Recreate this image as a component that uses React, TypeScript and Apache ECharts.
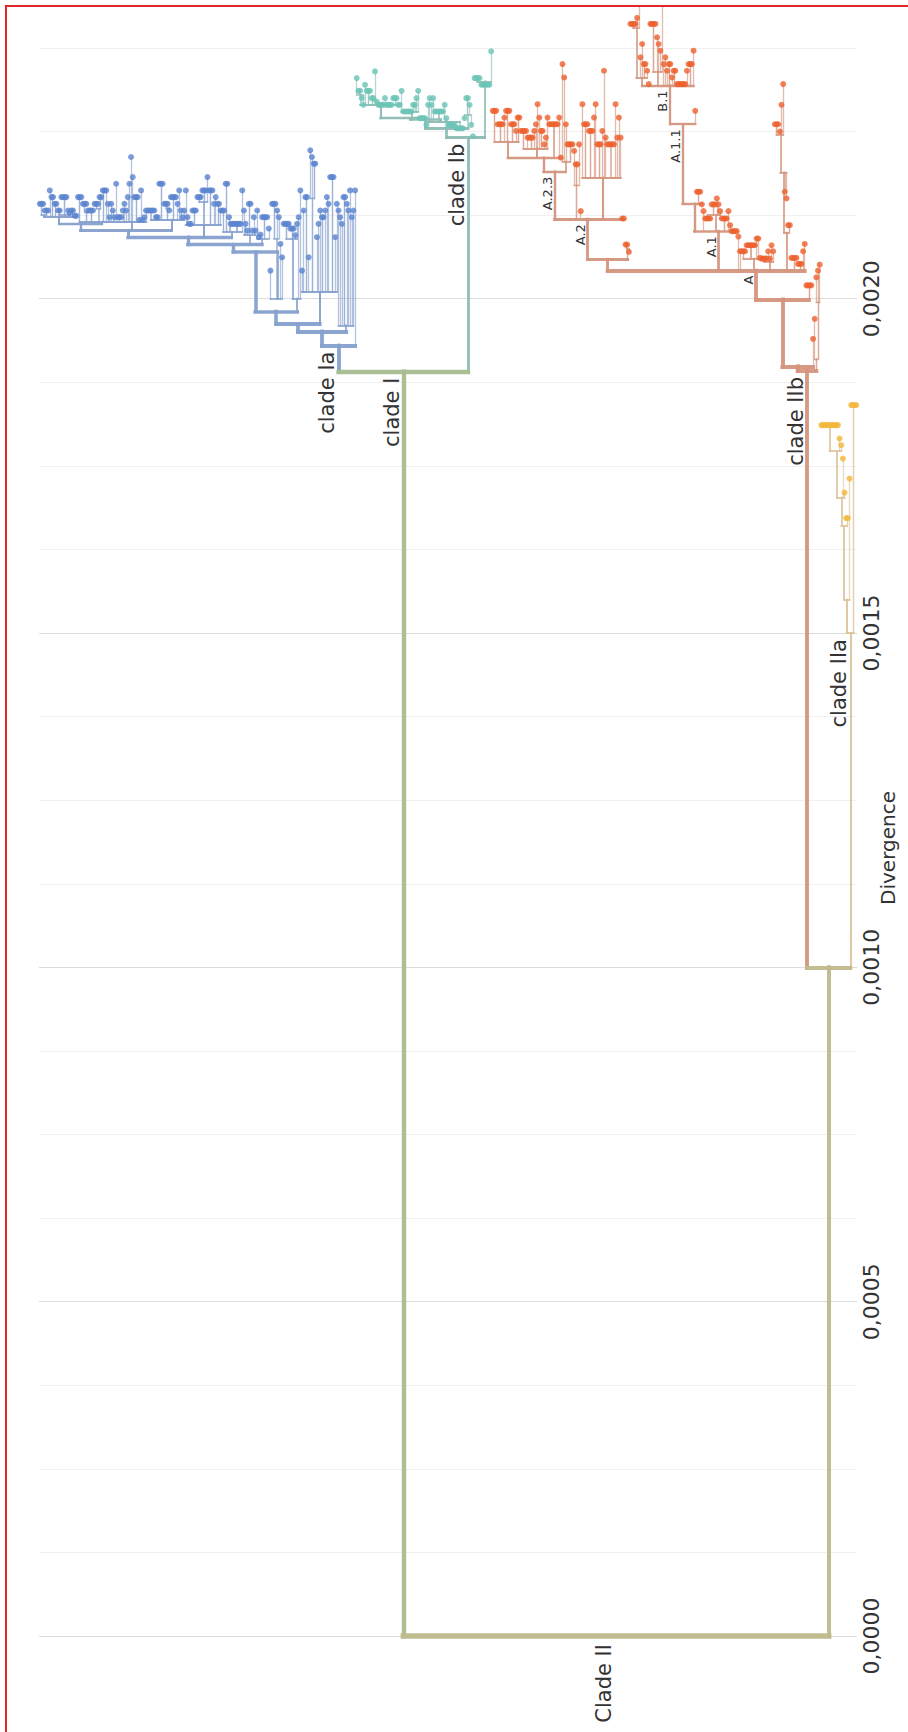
import React, { useEffect, useRef } from 'react';
import * as echarts from 'echarts';

// Tree notation: H = node divergence in units of 1e-5 (absolute, from root)
// "H" tip, "HxK" K tips sitting on a node at H, "H(child,...)" internal node, "#tag" names a node.
const cladeIaTree = `193#Ia(
 195.1(
  196.2(
   198.1(
    207(
     208.1(
      209.2(
       210.2(
        211.2(
         212.3(212.5(214.2x3,213.2x3),216.2,215.2x2,214.2x2,212.6(213.2x2,215.2x4,213.2,212.8),213.2x2,212.4x2),
         211.5(215.2x3,213(214.2x3,213.2),213.2x3,213.5(214.2x3,215.2x2),216.2x2,216.2,214.2,212.2,214.2,213.2,212.2)
        ),
        211.5(217.2,212.2x3,213.2,214.2,213.2,215.2,217.2,221.2,218.2,215.2x3,211.8,216.2,211.8,212.2,213.2),
        211.8(213.2x5,212.2x2,217.2x3,213.6(214.2x3,213.2),215.2x4,214.2,216.2,213.2,212.2,213.2)
       ),
       211(216.2,212.2,211.2x2,213.2x3,214.5(215.2x3,216.2x3,218.2),216.2x3,214.2,215.2,214.2x2,213.2),
       210(213.2x2,217.2x2,212.2,211.2,211.2x6,216.2)
      ),
      209.5(213.2,211.2,210.2,214.2x2,210.2,212.2,210.2),
      209(213.2,209.2,209.6,212.2x4,210.5)
     ),
     200(204.2,209(214.2x3,213.2,212.2),208.2,206.2)
    ),
    200(209(211.2x4,210.5x3,209.5,211.2),212.2,216.2)
   ),
   201(204.2,213.2,215.2x2,206.2,215(222.2,221.2,220.2x2),209.2,211.2,213.2,212.2x2,213.2,215.2,214.2,218.2x3,209.2,214.2)
  ),
  196(213.2,212.2,211.2,215.2x2,214.2,213.2,216.2,212.2,213.2)
 ),
 216.2
)`;

const cladeIbTree = `224.1#Ib(
 225.5(
  226.8(
   227(
    229(230.5(233,231.1x2,230,229),232,231.1x3,230x2,234,229.5,229x4,230,229x4,230x3,229,229),
    228(231.1,228x6,229,229,230,231.1),
    227x4,
    226
   ),
   226.5(229,230,229,230,228x6,229,227,226x5,225.5x5)
  ),
  227.5(227,230x2,229,226)
 ),
 224.3,
 232.5(233x4,232x6,237)
)`;

const lineageA23Tree = `219#A23(
 221.1(
  223.5(228.1x3,226.1x4,227.1,228.1x3,226.1x3,225.1,227.1x2),
  222.5(225.1x4,224.1,224.1x3,225.1,226.1,229.1,227.1,225.1x2,223.1,224.1,227.1),
  226.1x6,
  227.1,
  221.1
 ),
 220.5(235.1,233.1,226.1,223.1x4)
)`;

const lineageA2Tree = `211.9#A2(
 ${lineageA23Tree},
 217(222.1,220.1x2,223.1),
 213.1,
 218.1(229.1,226.1x3,225.1x3,227.1,229.1,223.1x3,225.1,234.1,224.1,223.1x5,229.1,224.1,227.1,224.1),
 212x2
)`;

const lineageB1Tree = `231.9#B1(
 233(240.5(241.1x4,242,252),236.1,238.1,235.1x2,234.1),
 232.1,
 234(241.1x4,239.1,238.1,237.1,252),
 235.1,236.1,234.1,235.1x2,233.1,234.1x2,
 232.1x6,234.1,235.1x3,237.1
)`;

const lineageA1Tree = `210.1#A1(
 214.2(226.1#A11(${lineageB1Tree},228.1),216x3,214.1),
 213.1,
 212.5(212x4,214.1x3,215,214.1,213.1),
 212x4,
 213.1,
 211,
 210.1x4
)`;

const lineageATree = `204.2#A(
 205.9(${lineageA2Tree},207.5(208.1x2,207)),
 ${lineageA1Tree},
 209.3,
 207.1,
 206(207.1x3,208x6,209,209,206.1),
 205.5(206x4,207.1,206,208,207.1),
 209.9(218.9(224.5(226.1x3,225,229,232.1),216,215),211x2),
 206.1x4,
 205.2x3,
 207.1,
 208.2
)`;

const cladeIIbTree = `189.2#IIb(
 189.9(199.9(${lineageATree},202x4),194),
 191(197,199.5(203.2,204.2,205.1))
)`;

const cladeIIaTree = `150#IIa(155(166(170.3(177.2(181.1x11,179.1,178.1),176.1,171),167.2x2),173.1),184.1x4)`;

const treeSpec = `0#root(189.1#I(${cladeIaTree},${cladeIbTree}),100#II(${cladeIIbTree},${cladeIIaTree}))`;

const cladeTags = ['root', 'I', 'II', 'Ia', 'Ib', 'IIb', 'IIa'];
const branchColors = ['#bdb98b', '#a6bc8f', '#c0b98b', '#86a0cd', '#8dbcb4', '#d4937c', '#dcc59d'];
const tipColors = ['#bdb98b', '#a6bc8f', '#c0b98b', '#5b84cf', '#6cc4b6', '#ee6230', '#f3b63b'];

const cladeLabelTags = ['Ia', 'I', 'Ib', 'IIb', 'IIa', 'root'];
const cladeLabelTexts = ['clade Ia', 'clade I', 'clade Ib', 'clade IIb', 'clade IIa', 'Clade II'];
const lineageLabelTags = ['A23', 'A2', 'B1', 'A11', 'A1', 'A'];
const lineageLabelTexts = ['A.2.3', 'A.2', 'B.1', 'A.1.1', 'A.1', 'A'];

const axisMax = 0.002375;
const axisStep = 0.000125;
const UNIT = 1e-5;
const FONT = '"DejaVu Sans", sans-serif';

type TNode = { h: number; tag?: string; children: TNode[]; x: number; n: number; clade: number; parent?: TNode };

function parseTree(spec: string): TNode {
  const s = spec.replace(/\s+/g, '');
  let i = 0;
  const readNum = () => {
    const m = /^\d+(\.\d+)?/.exec(s.slice(i));
    if (!m) throw new Error('tree parse error at ' + i + ': ' + s.slice(i, i + 30));
    i += m[0].length;
    return parseFloat(m[0]);
  };
  const mk = (h: number): TNode => ({ h, children: [], x: 0, n: 0, clade: 0 });
  const readNode = (): TNode => {
    const nd = mk(readNum());
    if (s[i] === '#') {
      i++;
      const m = /^[A-Za-z0-9]+/.exec(s.slice(i))!;
      nd.tag = m[0];
      i += m[0].length;
    }
    if (s[i] === 'x') {
      i++;
      const k = readNum();
      for (let j = 0; j < k; j++) nd.children.push(mk(nd.h));
    } else if (s[i] === '(') {
      i++;
      nd.children.push(readNode());
      while (s[i] === ',') {
        i++;
        nd.children.push(readNode());
      }
      if (s[i] !== ')') throw new Error('expected ) at ' + i + ': ' + s.slice(i, i + 30));
      i++;
    }
    return nd;
  };
  return readNode();
}

export default function App() {
  const ref = useRef<HTMLDivElement>(null);
  useEffect(() => {
    const chart = echarts.init(ref.current!, null, { renderer: 'svg' });
    const root = parseTree(treeSpec);
    let tip = 0;
    const all: TNode[] = [];
    const layout = (nd: TNode, clade: number, parent?: TNode) => {
      nd.parent = parent;
      if (nd.tag && cladeTags.indexOf(nd.tag) >= 0) clade = cladeTags.indexOf(nd.tag);
      nd.clade = clade;
      all.push(nd);
      if (!nd.children.length) {
        nd.x = tip++;
        nd.n = 1;
      } else {
        nd.children.forEach((c) => layout(c, clade, nd));
        nd.x = nd.children.reduce((a, c) => a + c.x, 0) / nd.children.length;
        nd.n = nd.children.reduce((a, c) => a + c.n, 0);
      }
    };
    layout(root, 0);
    const N = tip;
    const width = (n: number) => 1.1 + 4.4 * Math.sqrt(n / N);

    const segs: any[] = [];
    all.forEach((nd) => {
      const w = width(nd.n);
      const col = branchColors[nd.clade];
      const op = nd.n === 1 ? 0.62 : nd.n < 6 ? 0.8 : 0.95;
      if (nd.parent && nd.h !== nd.parent.h) {
        segs.push({ w, coords: [[nd.x, nd.parent.h * UNIT], [nd.x, nd.h * UNIT]], lineStyle: { color: col, width: w, opacity: op, cap: 'square' } });
      }
      if (nd.children.length) {
        const xs = nd.children.map((c) => c.x);
        const lo = Math.min(...xs);
        const hi = Math.max(...xs);
        if (hi > lo) segs.push({ w, coords: [[lo, nd.h * UNIT], [hi, nd.h * UNIT]], lineStyle: { color: col, width: w, opacity: op, cap: 'square' } });
      }
    });
    segs.sort((a, b) => a.w - b.w);

    const tips = all
      .filter((nd) => !nd.children.length)
      .map((nd) => ({ value: [nd.x, nd.h * UNIT], itemStyle: { color: tipColors[nd.clade] } }));

    chart.setOption({
      animation: false,
      textStyle: { fontFamily: FONT },
      grid: { left: 32, right: 51, top: 41, bottom: 96 },
      xAxis: { type: 'value', min: -0.5, max: N - 0.5, show: false },
      yAxis: {
        type: 'value',
        min: 0,
        max: axisMax,
        interval: axisStep,
        position: 'right',
        axisLine: { show: false },
        axisTick: { show: false },
        splitLine: { show: true, lineStyle: { color: ['#dcdcdc', '#f0f0f0', '#f0f0f0', '#f0f0f0'], width: 1 } },
        axisLabel: {
          rotate: 90,
          margin: 3,
          fontSize: 22,
          fontFamily: FONT,
          color: '#333',
          formatter: (v: number) => (Math.abs(v * 2000 - Math.round(v * 2000)) < 1e-6 ? v.toFixed(4).replace('.', ',') : ''),
        },
      },
      series: [
        {
          type: 'lines',
          coordinateSystem: 'cartesian2d',
          large: false,
          clip: false,
          silent: true,
          z: 2,
          data: segs.map((s) => ({ coords: s.coords, lineStyle: s.lineStyle })),
        },
        {
          type: 'scatter',
          symbol: 'circle',
          symbolSize: 6,
          clip: false,
          silent: true,
          z: 3,
          data: tips,
        },
      ],
    });

    const graphics: any[] = [];
    const addLabel = (tag: string, text: string, size: number, dy: number) => {
      const nd = all.find((a) => a.tag === tag);
      if (!nd) return;
      const p = chart.convertToPixel({ gridIndex: 0 }, [nd.x, nd.h * UNIT]) as number[];
      graphics.push({
        type: 'text',
        x: p[0] - 1,
        y: p[1] + dy,
        rotation: Math.PI / 2,
        silent: true,
        z: 10,
        style: {
          text,
          fill: '#333',
          fontSize: size,
          fontFamily: FONT,
          textAlign: 'right',
          textVerticalAlign: 'bottom',
          align: 'right',
          verticalAlign: 'bottom',
        },
      });
    };
    cladeLabelTags.forEach((t, k) => addLabel(t, cladeLabelTexts[k], 21, t === 'root' ? 8 : 6));
    lineageLabelTags.forEach((t, k) => addLabel(t, lineageLabelTexts[k], 13, 5));
    graphics.push({
      type: 'text',
      x: 881,
      y: 841,
      rotation: Math.PI / 2,
      silent: true,
      style: {
        text: 'Divergence',
        fill: '#333',
        fontSize: 20,
        fontFamily: FONT,
        textAlign: 'center',
        textVerticalAlign: 'middle',
        align: 'center',
        verticalAlign: 'middle',
      },
    });
    chart.setOption({ graphic: graphics });
    return () => chart.dispose();
  }, []);
  return (
    <div style={{ position: 'fixed', left: 0, top: 0, width: 908, height: 1732, background: '#fff' }}>
      <div ref={ref} style={{ position: 'absolute', left: 7, top: 7, width: 901, height: 1725 }} />
      <div style={{ position: 'absolute', left: 5, top: 5, width: 903, height: 2, background: '#e3262b' }} />
      <div style={{ position: 'absolute', left: 5, top: 5, width: 2, height: 1727, background: '#e3262b' }} />
    </div>
  );
}
